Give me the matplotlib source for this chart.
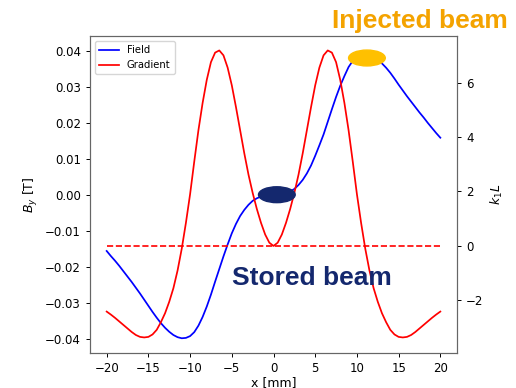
import numpy as np
import matplotlib
matplotlib.use('Agg')
import matplotlib.pyplot as plt
from matplotlib.patches import Ellipse

# x positions [mm], 0.5 mm steps
x_mm = np.arange(-20, 20.5, 0.5)

# field By [T]
field = [-0.0155, -0.0169, -0.0182, -0.0196, -0.0211, -0.0226, -0.0241, -0.0257,
         -0.0273, -0.0290, -0.0307, -0.0324, -0.0340, -0.0355, -0.0368, -0.0379,
         -0.0388, -0.0394, -0.0397, -0.0396, -0.0391, -0.0380, -0.0362, -0.0338,
         -0.0309, -0.0276, -0.0240, -0.0205, -0.0170, -0.0137, -0.0106, -0.0080,
         -0.0058, -0.0041, -0.0027, -0.0016, -0.0009, -0.0004, -0.0002, 0.0000,
         0.0000,
         0.0000, 0.0002, 0.0004, 0.0010, 0.0017, 0.0028, 0.0042, 0.0060,
         0.0082, 0.0109, 0.0138, 0.0168, 0.0203, 0.0238, 0.0272, 0.0303,
         0.0330, 0.0355, 0.0372, 0.0381, 0.0386, 0.0388, 0.0386, 0.0381,
         0.0374, 0.0365, 0.0353, 0.0339, 0.0323, 0.0306, 0.0290, 0.0274,
         0.0259, 0.0244, 0.0229, 0.0215, 0.0200, 0.0186, 0.0172, 0.0159]

# gradient k1L
gradient = [-2.41, -2.52, -2.64, -2.77, -2.90, -3.03, -3.16, -3.27,
            -3.34, -3.36, -3.34, -3.25, -3.08, -2.80, -2.47, -2.05,
            -1.55, -0.90, -0.10, 0.85, 1.90, 3.10, 4.25, 5.25,
            6.10, 6.75, 7.10, 7.18, 7.00, 6.55, 5.90, 5.10,
            4.25, 3.40, 2.62, 1.95, 1.36, 0.85, 0.42, 0.12,
            0.00,
            0.12, 0.42, 0.85, 1.36, 1.95, 2.62, 3.40, 4.25,
            5.10, 5.90, 6.55, 7.00, 7.18, 7.10, 6.75, 6.10,
            5.25, 4.25, 3.10, 1.90, 0.85, -0.10, -0.90, -1.55,
            -2.05, -2.47, -2.80, -3.08, -3.25, -3.34, -3.36, -3.34,
            -3.27, -3.16, -3.03, -2.90, -2.77, -2.64, -2.52, -2.41]

# beam spots (x [mm], By [T])
stored_beam = (0.4, 0.0001)
injected_beam = (11.2, 0.0380)

fig = plt.figure(figsize=(5.16, 3.88), dpi=100)
ax1 = fig.add_axes([0.1744, 0.0910, 0.7113, 0.8162])
ax2 = ax1.twinx()

l1, = ax1.plot(x_mm, field, color='b', lw=1.25, label='Field')
l2, = ax2.plot(x_mm, gradient, color='r', lw=1.25, label='Gradient')
ax2.hlines(0, x_mm[0], x_mm[-1], colors='r', linestyles='--', lw=1.2)

ax1.set_xlim(-22, 22)
ax1.set_ylim(-0.0437, 0.0441)
ax2.set_ylim(-3.92, 7.71)
ax1.set_xticks(range(-20, 21, 5))
ax1.set_yticks(np.arange(-0.04, 0.041, 0.01))

ax1.set_xlabel('x [mm]', fontsize=9, labelpad=1)
ax1.set_ylabel('$B_y$ [T]', fontsize=9)
ax2.set_ylabel('$k_1L$', fontsize=9)
for ax in (ax1, ax2):
    ax.tick_params(labelsize=8.5, length=3, width=0.7)
    for s in ax.spines.values():
        s.set_linewidth(0.8)
        s.set_color('0.4')

ax2.legend(handles=[l1, l2], loc='upper left', fontsize=7.2)

for (cx, cy), col in ((stored_beam, '#14286E'), (injected_beam, '#FFC000')):
    ax2.add_patch(Ellipse((cx, cy), 4.4, 0.0044, color=col,
                          transform=ax1.transData, zorder=5))

fig.text(0.449, 0.2655, 'Stored beam', fontsize=19, fontweight='bold',
         family='Liberation Sans', color='#14286E')
fig.text(0.643, 0.927, 'Injected beam', fontsize=19, fontweight='bold',
         family='Liberation Sans', color='#F4A300')

fig.savefig('out.png', dpi=100)
